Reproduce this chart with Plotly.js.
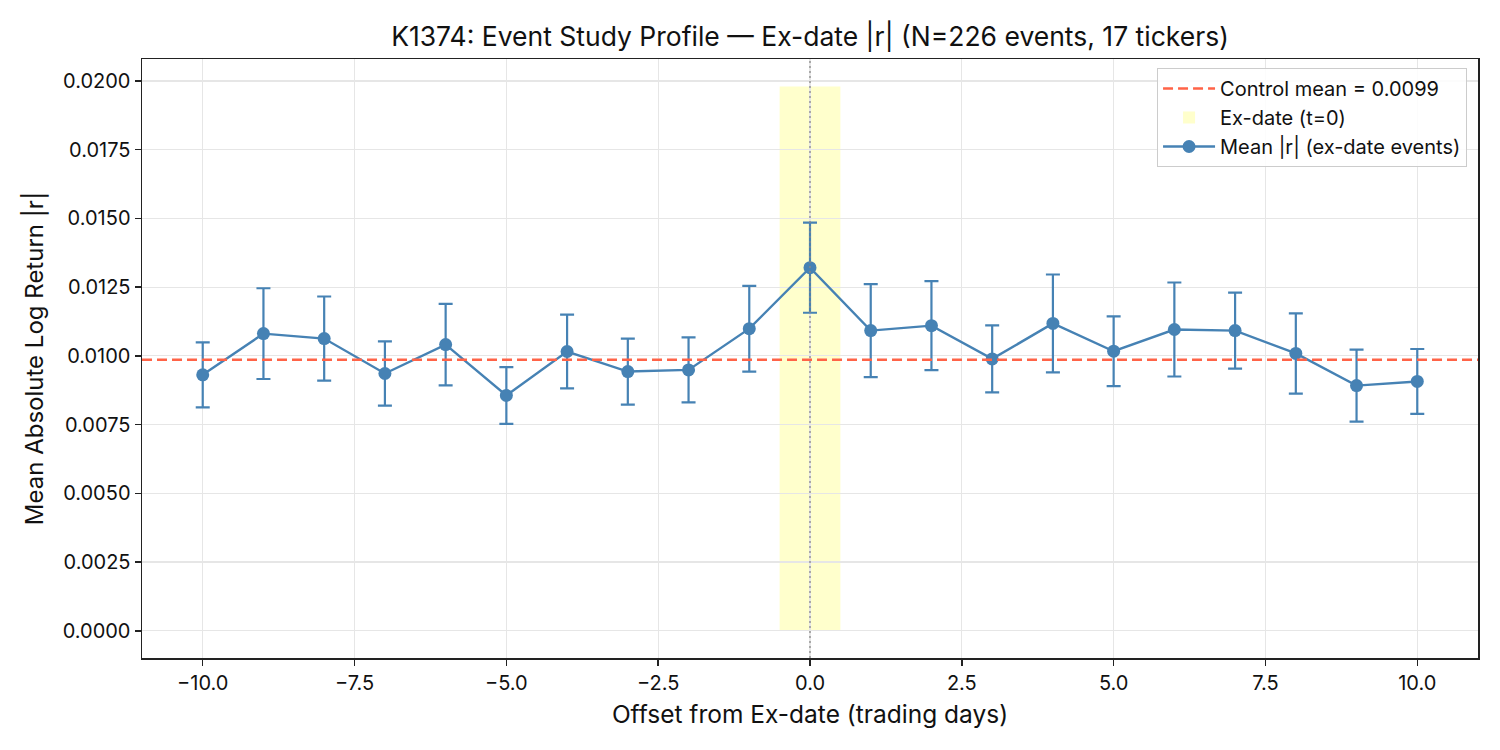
<!DOCTYPE html>
<html>
<head>
<meta charset="utf-8">
<script src="https://cdn.plot.ly/plotly-3.0.1.min.js"></script>
<style>html,body{margin:0;padding:0;background:#fff;}#chart{width:1500px;height:750px;}</style>
</head>
<body>
<div id="chart"></div>
<script>
// Data
const offsets = [-10,-9,-8,-7,-6,-5,-4,-3,-2,-1,0,1,2,3,4,5,6,7,8,9,10];
const meanAbsReturn = [0.00931,0.01081,0.01063,0.00936,0.01041,0.00856,0.01016,0.00943,0.00949,0.01099,0.01321,0.01092,0.01110,0.00989,0.01118,0.01017,0.01096,0.01092,0.01009,0.00892,0.00907];
const errHalfWidth = [0.00118,0.00165,0.00153,0.00117,0.00148,0.00103,0.00134,0.00120,0.00118,0.00156,0.00164,0.00169,0.00162,0.00122,0.00178,0.00127,0.00171,0.00138,0.00146,0.00131,0.00118];
const controlMean = 0.00986;
const bandX = [-0.5, 0.5];
const bandTop = 0.0198;
const titleText = "K1374: Event Study Profile — Ex-date |r| (N=226 events, 17 tickers)";
const xTitle = "Offset from Ex-date (trading days)";
const yTitle = "Mean Absolute Log Return |r|";
const legendNames = ["Control mean = 0.0099", "Ex-date (t=0)", "Mean |r| (ex-date events)"];

const FONT = "Inter, Liberation Sans, Arial, sans-serif";
const BLUE = "#4682B4";

const traces = [{
  type: "scatter",
  mode: "lines+markers",
  x: offsets,
  y: meanAbsReturn,
  name: legendNames[2],
  line: {color: BLUE, width: 2.4},
  marker: {color: BLUE, size: 13},
  error_y: {type: "data", array: errHalfWidth, visible: true, color: BLUE, thickness: 2.2, width: 7},
  legendrank: 3
}];

const layout = {
  width: 1500, height: 750,
  paper_bgcolor: "#fff", plot_bgcolor: "#fff",
  margin: {l: 142, r: 22, t: 59, b: 92},
  font: {family: FONT, size: 20, color: "#111"},
  title: {text: titleText, font: {family: FONT, size: 26.5, color: "#111"}, x: 0.5, xref: "paper", xanchor: "center", y: 1 - 37/750, yanchor: "middle", yref: "container"},
  xaxis: {
    range: [-11, 11], dtick: 2.5, tick0: 0, tickformat: ".1f",
    showgrid: true, gridcolor: "#e6e6e6", gridwidth: 1.2,
    zeroline: false, showline: true, linecolor: "#222", linewidth: 1.5, mirror: true,
    ticks: "outside", ticklen: 6, tickwidth: 1.5, tickcolor: "#222",
    tickfont: {size: 20, family: FONT, color: "#111"},
    title: {text: xTitle, font: {size: 24.5, family: FONT, color: "#111"}, standoff: 12}
  },
  yaxis: {
    range: [-0.00099, 0.0208], dtick: 0.0025, tick0: 0, tickformat: ".4f",
    showgrid: true, gridcolor: "#e6e6e6", gridwidth: 1.2,
    zeroline: false, showline: true, linecolor: "#222", linewidth: 1.5, mirror: true,
    ticks: "outside", ticklen: 6, tickwidth: 1.5, tickcolor: "#222",
    tickfont: {size: 20, family: FONT, color: "#111"},
    title: {text: yTitle, font: {size: 24, family: FONT, color: "#111"}, standoff: 12}
  },
  shapes: [
    {type: "rect", xref: "x", yref: "y", x0: bandX[0], x1: bandX[1], y0: 0, y1: bandTop,
     fillcolor: "rgba(255,255,153,0.5)", line: {width: 0}, layer: "below",
     showlegend: true, name: legendNames[1], legendrank: 2},
    {type: "line", xref: "x", yref: "paper", x0: 0, x1: 0, y0: 0, y1: 1,
     line: {color: "#888", width: 1.3, dash: "2px,3px"}, layer: "above"},
    {type: "line", xref: "paper", yref: "y", x0: 0, x1: 1, y0: controlMean, y1: controlMean,
     line: {color: "#FF6347", width: 2.4, dash: "10px,5px"}, layer: "above",
     showlegend: true, name: legendNames[0], legendrank: 1}
  ],
  legend: {
    x: 0.9918, xanchor: "right", y: 0.985, yanchor: "top",
    bgcolor: "rgba(255,255,255,0.85)", bordercolor: "#ccc", borderwidth: 1,
    itemwidth: 52,
    font: {size: 20, family: FONT, color: "#111"}
  },
  showlegend: true
};

Plotly.newPlot("chart", traces, layout, {displayModeBar: false, staticPlot: true});
</script>
</body>
</html>
